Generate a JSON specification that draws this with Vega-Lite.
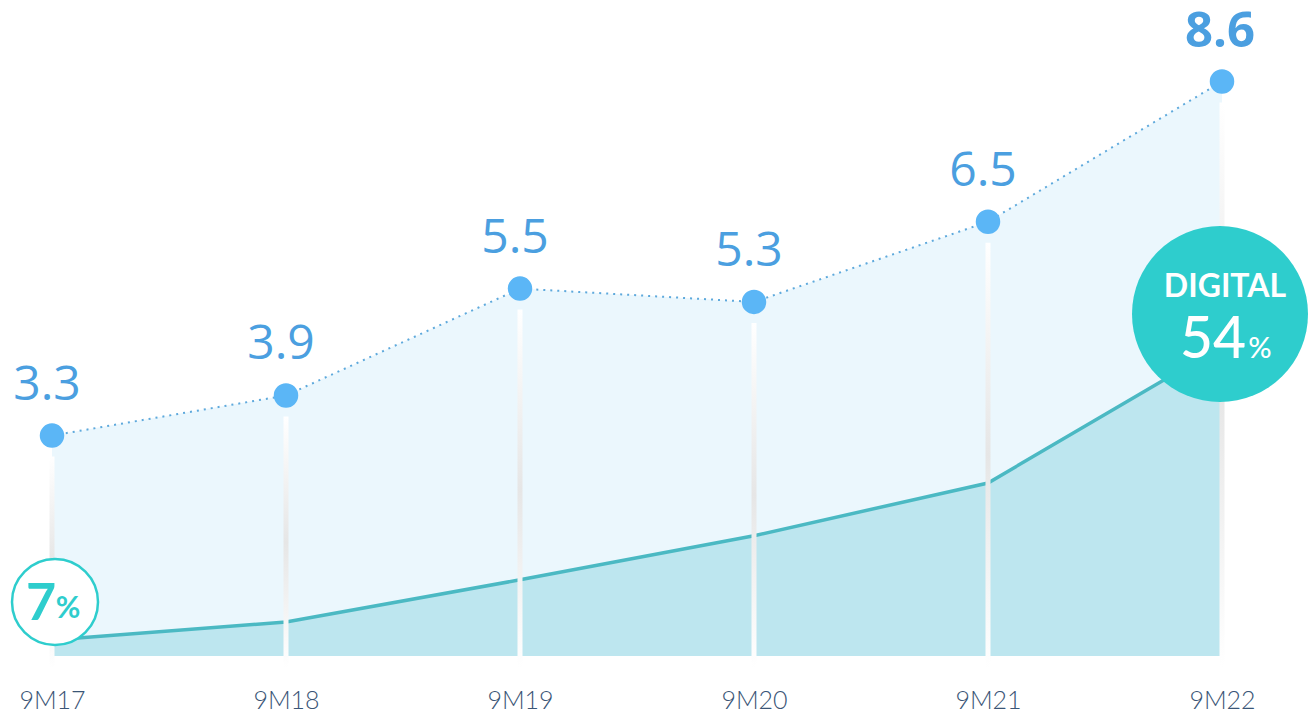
{
  "$schema": "https://vega.github.io/schema/vega-lite/v6.json",
  "width": 1170,
  "height": 656,
  "padding": {"left": 52, "top": 0, "right": 89, "bottom": 58},
  "autosize": {"type": "none"},
  "background": "white",
  "config": {"view": {"stroke": null}},
  "data": {
    "values": [
      {"period": "9M17", "total": 3.3, "digital": 0.24, "pct": "7"},
      {"period": "9M18", "total": 3.9, "digital": 0.51, "pct": ""},
      {"period": "9M19", "total": 5.5, "digital": 1.14, "pct": ""},
      {"period": "9M20", "total": 5.3, "digital": 1.8, "pct": ""},
      {"period": "9M21", "total": 6.5, "digital": 2.59, "pct": ""},
      {"period": "9M22", "total": 8.6, "digital": 4.64, "pct": "54"}
    ]
  },
  "encoding": {
    "x": {
      "field": "period", "type": "ordinal",
      "scale": {"type": "point", "padding": 0},
      "axis": {"title": null, "domain": false, "ticks": false, "grid": false, "labelAngle": 0,
        "labelFont": "Lato", "labelFontSize": 25, "labelFontWeight": 300, "labelColor": "#3a5576", "labelBaseline": "alphabetic", "labelPadding": 52}
    }
  },
  "layer": [
    {
      "mark": {"type": "area", "color": "#ebf7fd", "opacity": 1},
      "encoding": {"y": {"field": "total", "type": "quantitative", "scale": {"domain": [0, 9.82], "nice": false, "zero": true}, "axis": null}}
    },
    {
      "mark": {"type": "area", "color": "#bde6ef", "opacity": 1},
      "encoding": {"y": {"field": "digital", "type": "quantitative"}}
    },
    {
      "mark": {"type": "line", "color": "#4bb9c3", "strokeWidth": 3.5},
      "encoding": {"y": {"field": "digital", "type": "quantitative"}}
    },
    {
      "mark": {"type": "bar", "width": 5, "yOffset": 21, "y2Offset": 12,
        "fill": {"gradient": "linear", "x1": 0, "y1": 0, "x2": 0, "y2": 1,
          "stops": [{"offset": 0, "color": "#ffffff"}, {"offset": 0.5, "color": "#e6e6e6"}, {"offset": 1, "color": "#ffffff"}]}},
      "encoding": {"y": {"field": "total", "type": "quantitative"}, "y2": {"datum": 0}}
    },
    {
      "mark": {"type": "line", "color": "#5ea9dc", "strokeWidth": 2, "strokeDash": [2, 5]},
      "encoding": {"y": {"field": "total", "type": "quantitative"}}
    },
    {
      "mark": {"type": "point", "filled": true, "opacity": 1, "color": "#5bb6f6", "size": 600},
      "encoding": {"y": {"field": "total", "type": "quantitative"}}
    },
    {
      "transform": [{"filter": "datum.period != '9M22'"}],
      "mark": {"type": "text", "font": "Open Sans", "fontSize": 48, "color": "#4b9fe0", "baseline": "alphabetic", "dy": -36, "dx": -5},
      "encoding": {"y": {"field": "total", "type": "quantitative"}, "text": {"field": "total", "type": "quantitative", "format": ".1f"}}
    },
    {
      "transform": [{"filter": "datum.period == '9M22'"}],
      "mark": {"type": "text", "font": "Open Sans", "fontSize": 49, "fontWeight": "bold", "color": "#4b9fe0", "baseline": "alphabetic", "dy": -34, "dx": -2},
      "encoding": {"y": {"field": "total", "type": "quantitative"}, "text": {"field": "total", "type": "quantitative", "format": ".1f"}}
    },
    {
      "transform": [{"filter": "datum.period == '9M22'"}],
      "mark": {"type": "point", "filled": true, "opacity": 1, "color": "#2ecdcd", "size": 30976, "yOffset": -32, "xOffset": -2},
      "encoding": {"y": {"field": "digital", "type": "quantitative"}}
    },
    {
      "transform": [{"filter": "datum.period == '9M22'"}],
      "mark": {"type": "text", "text": "DIGITAL", "font": "Lato", "fontSize": 32, "fontWeight": "bold", "color": "white", "baseline": "alphabetic", "dy": -49, "dx": 3},
      "encoding": {"y": {"field": "digital", "type": "quantitative"}}
    },
    {
      "transform": [{"filter": "datum.period == '9M22'"}],
      "mark": {"type": "text", "font": "Lato", "fontSize": 57, "fontWeight": 500, "color": "white", "baseline": "alphabetic", "dy": 12, "dx": -9},
      "encoding": {"y": {"field": "digital", "type": "quantitative"}, "text": {"field": "pct"}}
    },
    {
      "transform": [{"filter": "datum.period == '9M22'"}],
      "mark": {"type": "text", "text": "%", "font": "Lato", "fontSize": 29, "fontWeight": 500, "color": "white", "baseline": "alphabetic", "dy": 12, "dx": 38},
      "encoding": {"y": {"field": "digital", "type": "quantitative"}}
    },
    {
      "transform": [{"filter": "datum.period == '9M17'"}],
      "mark": {"type": "point", "filled": false, "opacity": 1, "fill": "white", "fillOpacity": 1, "stroke": "#2ecdcd", "strokeWidth": 2.5, "size": 7396, "yOffset": -38, "xOffset": 3},
      "encoding": {"y": {"field": "digital", "type": "quantitative"}}
    },
    {
      "transform": [{"filter": "datum.period == '9M17'"}],
      "mark": {"type": "text", "font": "Lato", "fontSize": 52, "fontWeight": "bold", "color": "#2ecdcd", "baseline": "alphabetic", "dy": -20, "dx": -11},
      "encoding": {"y": {"field": "digital", "type": "quantitative"}, "text": {"field": "pct"}}
    },
    {
      "transform": [{"filter": "datum.period == '9M17'"}],
      "mark": {"type": "text", "text": "%", "font": "Lato", "fontSize": 30, "fontWeight": "bold", "color": "#2ecdcd", "baseline": "alphabetic", "dy": -22, "dx": 16},
      "encoding": {"y": {"field": "digital", "type": "quantitative"}}
    }
  ]
}
